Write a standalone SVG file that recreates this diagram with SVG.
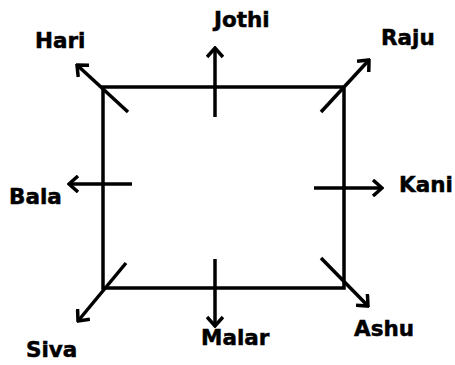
<svg xmlns="http://www.w3.org/2000/svg" width="455" height="365" viewBox="0 0 455 365">
  <style>
    .lbl { font-family: "DejaVu Sans", Verdana, sans-serif; font-weight: bold; font-size: 21.5px; fill: #000; stroke: #000; stroke-width: 0.5; }
    .edge { stroke: #000; stroke-width: 3.5; fill: none; }
  </style>
  <defs>
    <marker id="arrow" viewBox="0 0 13 18" markerWidth="13" markerHeight="18" refX="11" refY="9" orient="auto" markerUnits="userSpaceOnUse">
      <path d="M2,1 L11,9 L2,17" fill="none" stroke="#000" stroke-width="3.5"/>
    </marker>
  </defs>
  <rect width="455" height="365" fill="#fff"/>
  <g id="square">
    <rect x="103" y="87" width="241" height="201" class="edge"/>
  </g>
  <g id="connectors">
    <line class="edge" x1="128" y1="112" x2="77" y2="65" marker-end="url(#arrow)"/>
    <line class="edge" x1="215" y1="117" x2="215" y2="48" marker-end="url(#arrow)"/>
    <line class="edge" x1="321" y1="112" x2="369" y2="60" marker-end="url(#arrow)"/>
    <line class="edge" x1="132" y1="184" x2="69" y2="184" marker-end="url(#arrow)"/>
    <line class="edge" x1="314" y1="188" x2="382" y2="188" marker-end="url(#arrow)"/>
    <line class="edge" x1="126" y1="263" x2="78" y2="321" marker-end="url(#arrow)"/>
    <line class="edge" x1="215" y1="259" x2="215" y2="326" marker-end="url(#arrow)"/>
    <line class="edge" x1="321" y1="258" x2="368" y2="306" marker-end="url(#arrow)"/>
  </g>
  <g id="hari"><text class="lbl" x="35" y="48">Hari</text></g>
  <g id="jothi"><text class="lbl" x="214" y="27">Jothi</text></g>
  <g id="raju"><text class="lbl" x="381" y="45">Raju</text></g>
  <g id="bala"><text class="lbl" x="9" y="204">Bala</text></g>
  <g id="kani"><text class="lbl" x="399" y="192">Kani</text></g>
  <g id="siva"><text class="lbl" x="26" y="357">Siva</text></g>
  <g id="malar"><text class="lbl" x="201" y="345">Malar</text></g>
  <g id="ashu"><text class="lbl" x="354" y="336">Ashu</text></g>
</svg>
